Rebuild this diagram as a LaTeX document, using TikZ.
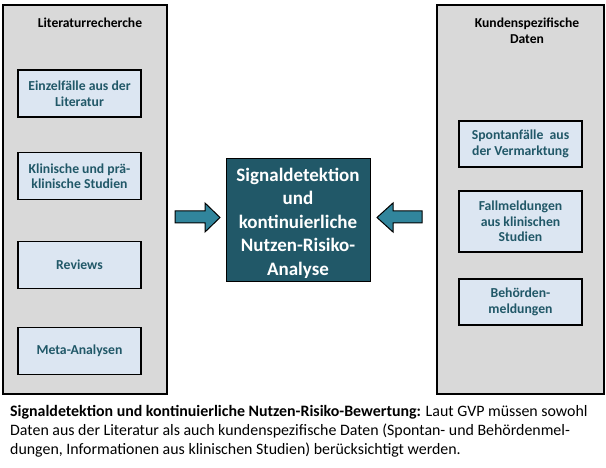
\documentclass[tikz,border=0pt]{standalone}
\usepackage{fontspec}
\setmainfont{Carlito}
\definecolor{panelgray}{HTML}{D9D9D9}
\definecolor{boxblue}{HTML}{DCE6F2}
\definecolor{darkteal}{HTML}{215868}
\definecolor{arrowteal}{HTML}{31859C}
\begin{document}
\begin{tikzpicture}[x=1pt,y=-1pt,
  panel/.style={draw=black,line width=1.5pt,fill=panelgray,inner sep=0pt,minimum width=#1,minimum height=389pt},
  srcbox/.style={draw=black,line width=1.6pt,fill=boxblue,inner sep=0pt,minimum width=123pt,minimum height=#1,
    align=center,text=darkteal,font=\fontsize{13.7}{15.5}\selectfont\bfseries},
  paneltitle/.style={align=center,font=\fontsize{13.6}{15.5}\selectfont\bfseries,inner sep=0pt},
  fatarrow/.style={draw=black,line width=1pt,fill=arrowteal,line join=miter}
]
\useasboundingbox (0,0) rectangle (606,468);
\fill[white] (0,0) rectangle (606,468);
% panels
\node[panel=164pt] (lp) at (85,199.5) {};
\node[panel=167pt] (rp) at (520.5,199.5) {};
\node[paneltitle] (lt) at (90,23) {Literaturrecherche};
\node[paneltitle] (rt) at (527,31) {Kundenspezifische\\Daten};
% left boxes
\node[srcbox=47pt] (l1) at (79.5,93.5) {Einzelfälle aus der\\Literatur};
\node[srcbox=47pt] (l2) at (79.5,176) {Klinische und prä-\\klinische Studien};
\node[srcbox=47pt] (l3) at (79.5,265) {Reviews};
\node[srcbox=47pt] (l4) at (79.5,351) {Meta-Analysen};
% right boxes
\node[srcbox=46pt] (r1) at (520.5,144) {Spontanfälle\ \ aus\\der Vermarktung};
\node[srcbox=61pt] (r2) at (520.5,221.5) {Fallmeldungen\\aus klinischen\\Studien};
\node[srcbox=46pt] (r3) at (520.5,302) {Behörden-\\meldungen};
% center
\node[draw=black,line width=1pt,fill=darkteal,minimum width=144pt,minimum height=123pt,inner sep=0pt] (c) at (298,220.5) {};
\node[text=white,inner sep=0pt,align=center,font=\fontsize{19}{23.5}\selectfont\bfseries] (ct) at (298,223)
  {Signaldetektion\\und\\kontinuierliche\\Nutzen-Risiko-\\Analyse};
% arrows
\draw[fatarrow] (175,211) -- (205,211) -- (205,203) -- (220,217.5) -- (205,232) -- (205,223) -- (175,223) -- cycle;
\draw[fatarrow] (422,211) -- (393,211) -- (393,203) -- (377,217.5) -- (393,232) -- (393,223) -- (422,223) -- cycle;
% caption
\node[anchor=north west,align=left,inner sep=0pt,font=\fontsize{15.9}{19}\selectfont] (cap) at (10,405)
  {\textbf{Signaldetektion und kontinuierliche Nutzen-Risiko-Bewertung:} Laut GVP müssen sowohl\\
   Daten aus der Literatur als auch kundenspezifische Daten (Spontan- und Behördenmel-\\
   dungen, Informationen aus klinischen Studien) berücksichtigt werden.};
\end{tikzpicture}
\end{document}
